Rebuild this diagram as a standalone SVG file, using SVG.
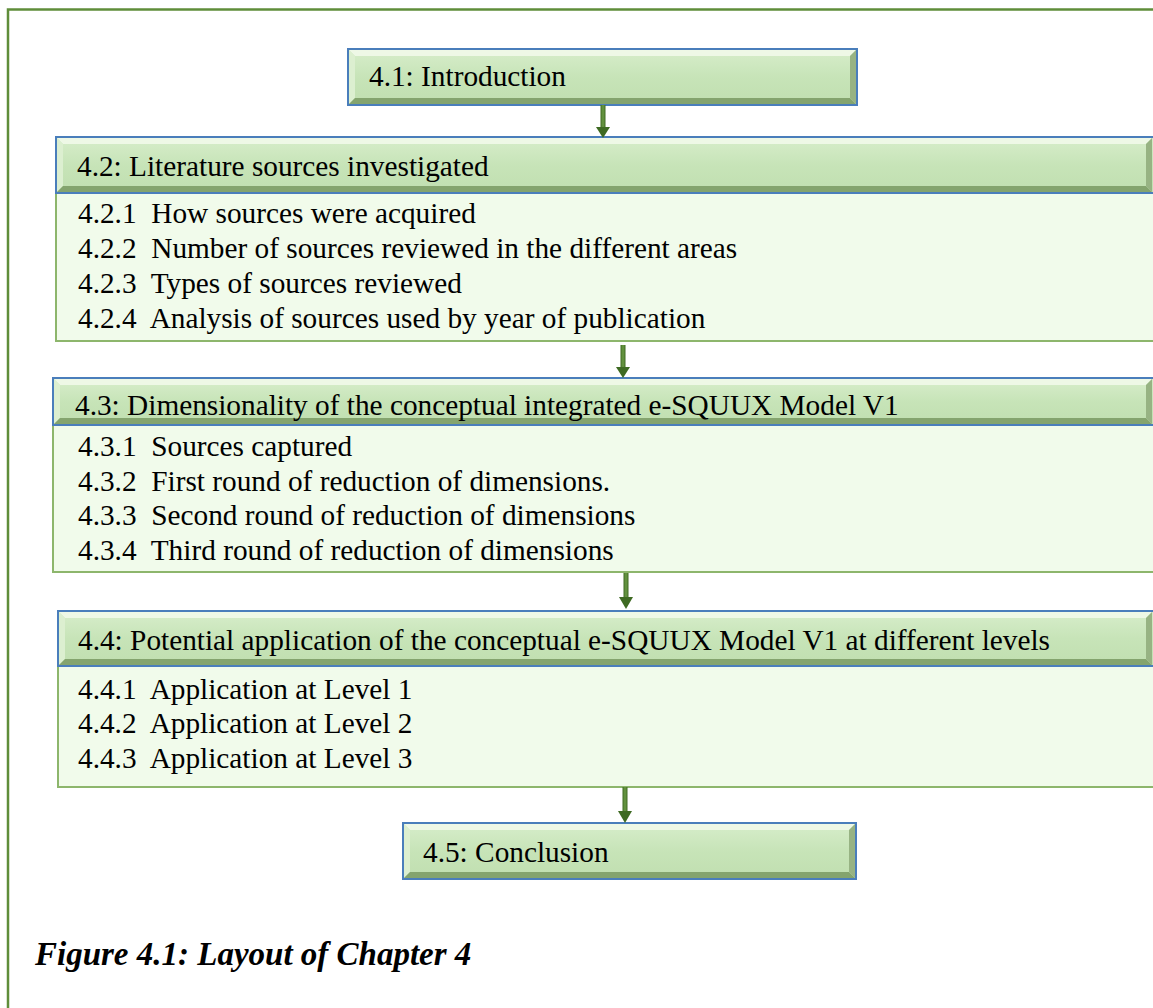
<svg xmlns="http://www.w3.org/2000/svg" width="1153" height="1008" viewBox="0 0 1153 1008">
<defs>
<linearGradient id="face" x1="0" y1="0" x2="0" y2="1">
<stop offset="0" stop-color="#D3EBC6"/>
<stop offset="0.5" stop-color="#C7E4B8"/>
<stop offset="1" stop-color="#C2E0B2"/>
</linearGradient>
<linearGradient id="shaft" x1="0" y1="0" x2="1" y2="0">
<stop offset="0" stop-color="#3F6A22"/>
<stop offset="0.5" stop-color="#6B9B45"/>
<stop offset="1" stop-color="#3F6A22"/>
</linearGradient>
</defs>
<style>
.face{fill:url(#face);stroke:#4A7EBB;stroke-width:2}
.bt{fill:#EEF8E6}
.bl{fill:#DCEFD0}
.bb{fill:#84A46E}
.br{fill:#97B383}
.body{fill:#F1FBEB;stroke:#8DB66C;stroke-width:2}
.t{font-family:"Liberation Serif","Times New Roman",serif;font-size:29.3px;fill:#000}
.cap{font-family:"Liberation Serif","Times New Roman",serif;font-size:33px;font-weight:bold;font-style:italic;fill:#000}
.conn rect{fill:url(#shaft)}
.conn path{fill:#3E6A22}
</style>
<rect x="8" y="9.5" width="1160" height="1010" fill="none" stroke="#5F8D3A" stroke-width="2.5"/>

<g id="n41">
<rect class="face" x="348" y="49" width="509" height="56"/>
<polygon class="bt" points="349,50 856,50 850,56 355,56"/>
<polygon class="bl" points="349,50 355,56 355,98 349,104"/>
<polygon class="bb" points="349,104 856,104 850,98 355,98"/>
<polygon class="br" points="856,50 850,56 850,98 856,104"/>
<rect x="355" y="56" width="495" height="42" fill="url(#face)"/>
<text class="t" x="369" y="86">4.1: Introduction</text>
</g>

<g id="n42">
<rect class="body" x="56" y="193" width="1110" height="148"/>
<rect class="face" x="56" y="137" width="1110" height="56"/>
<polygon class="bt" points="57,138 1152,138 1146,144 63,144"/>
<polygon class="bl" points="57,138 63,144 63,186 57,192"/>
<polygon class="bb" points="57,192 1152,192 1146,186 63,186"/>
<polygon class="br" points="1152,138 1146,144 1146,186 1152,192"/>
<rect x="63" y="144" width="1083" height="42" fill="url(#face)"/>
<text class="t" x="77" y="176">4.2: Literature sources investigated</text>
<text class="t" x="78" y="223" xml:space="preserve">4.2.1  How sources were acquired</text>
<text class="t" x="78" y="258" xml:space="preserve">4.2.2  Number of sources reviewed in the different areas</text>
<text class="t" x="78" y="293" xml:space="preserve">4.2.3  Types of sources reviewed</text>
<text class="t" x="78" y="328" xml:space="preserve">4.2.4  Analysis of sources used by year of publication</text>
</g>

<g id="n43">
<rect class="body" x="53" y="425" width="1113" height="147"/>
<rect class="face" x="53" y="378" width="1113" height="47"/>
<polygon class="bt" points="54,379 1152,379 1146,385 60,385"/>
<polygon class="bl" points="54,379 60,385 60,418 54,424"/>
<polygon class="bb" points="54,424 1152,424 1146,418 60,418"/>
<polygon class="br" points="1152,379 1146,385 1146,418 1152,424"/>
<rect x="60" y="385" width="1086" height="33" fill="url(#face)"/>
<text class="t" x="75" y="415">4.3: Dimensionality of the conceptual integrated e-SQUUX Model V1</text>
<text class="t" x="78" y="456" xml:space="preserve">4.3.1  Sources captured</text>
<text class="t" x="78" y="491" xml:space="preserve">4.3.2  First round of reduction of dimensions.</text>
<text class="t" x="78" y="525" xml:space="preserve">4.3.3  Second round of reduction of dimensions</text>
<text class="t" x="78" y="560" xml:space="preserve">4.3.4  Third round of reduction of dimensions</text>
</g>

<g id="n44">
<rect class="body" x="58" y="666" width="1108" height="121"/>
<rect class="face" x="58" y="611" width="1108" height="55"/>
<polygon class="bt" points="59,612 1152,612 1146,618 65,618"/>
<polygon class="bl" points="59,612 65,618 65,659 59,665"/>
<polygon class="bb" points="59,665 1152,665 1146,659 65,659"/>
<polygon class="br" points="1152,612 1146,618 1146,659 1152,665"/>
<rect x="65" y="618" width="1081" height="41" fill="url(#face)"/>
<text class="t" x="78" y="650">4.4: Potential application of the conceptual e-SQUUX Model V1 at different levels</text>
<text class="t" x="78" y="699" xml:space="preserve">4.4.1  Application at Level 1</text>
<text class="t" x="78" y="733" xml:space="preserve">4.4.2  Application at Level 2</text>
<text class="t" x="78" y="768" xml:space="preserve">4.4.3  Application at Level 3</text>
</g>

<g id="n45">
<rect class="face" x="403" y="823" width="453" height="56"/>
<polygon class="bt" points="404,824 855,824 849,830 410,830"/>
<polygon class="bl" points="404,824 410,830 410,872 404,878"/>
<polygon class="bb" points="404,878 855,878 849,872 410,872"/>
<polygon class="br" points="855,824 849,830 849,872 855,878"/>
<rect x="410" y="830" width="439" height="42" fill="url(#face)"/>
<text class="t" x="423" y="862">4.5: Conclusion</text>
</g>

<g id="connectors" class="conn">
<rect x="600.5" y="105" width="5" height="23"/>
<path d="M596,127 L610,127 L603,138 Z"/>
<rect x="620.5" y="345" width="5" height="23"/>
<path d="M616,367 L630,367 L623,378 Z"/>
<rect x="623.5" y="573" width="5" height="25"/>
<path d="M619,597 L633,597 L626,609 Z"/>
<rect x="622.5" y="787" width="5" height="25"/>
<path d="M618,811 L632,811 L625,823 Z"/>
</g>

<text class="cap" x="35" y="965">Figure 4.1: Layout of Chapter 4</text>
</svg>
